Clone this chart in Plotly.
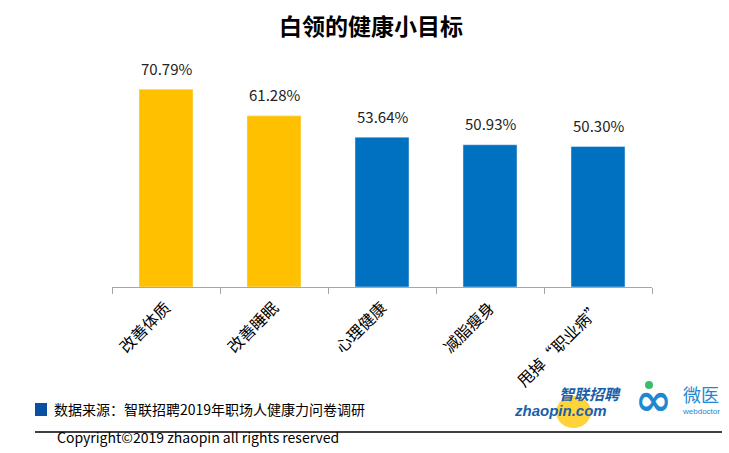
import plotly.graph_objects as go

categories = ["改善体质", "改善睡眠", "心理健康", "减脂瘦身", "甩掉“职业病”"]
values = [70.79, 61.28, 53.64, 50.93, 50.30]
bar_colors = ["#FFC000", "#FFC000", "#0070C0", "#0070C0", "#0070C0"]
labels = [f"{v:.2f}%" for v in values]

FONT = "Noto Sans CJK SC, Microsoft YaHei, sans-serif"

W, H = 729, 453
pl, pr, pt, pb = 112, 77, 60, 166
pw, ph = W - pl - pr, H - pt - pb
def px(x): return (x - pl) / pw
def py(y): return (H - pb - y) / ph

fig = go.Figure()
fig.add_trace(go.Bar(
    x=categories, y=values, marker_color=bar_colors, width=0.5,
    hoverinfo="skip", showlegend=False,
))

annotations = []
for c, v, t in zip(categories, values, labels):
    annotations.append(dict(x=c, y=v, xref="x", yref="y", text=t, showarrow=False,
                            xanchor="center", yanchor="middle",
                            yshift=21, font=dict(size=15, color="#222222", family=FONT)))

def note(text, x, y, size, color="#000000", family=FONT, xanchor="center"):
    return dict(text=text, x=px(x), y=py(y), xref="paper", yref="paper",
                xanchor=xanchor, yanchor="middle", showarrow=False,
                font=dict(size=size, color=color, family=family))

annotations += [
    note("<b>白领的健康小目标</b>", 371, 25, 23),
    note("数据来源：智联招聘2019年职场人健康力问卷调研", 52, 409, 14, xanchor="left"),
    note("Copyright©2019 zhaopin all rights reserved", 55, 437, 14, xanchor="left"),
    note("<b><i>智联招聘</i></b>", 590, 393, 15, "#1B5FAA"),
    note("<b><i>zhaopin.com</i></b>", 560, 410, 15, "#1B5FAA", "Liberation Sans, Arial, sans-serif"),
    note("<b>∞</b>", 653, 399, 44, "#1E88D0", "DejaVu Sans"),
    note("微医", 701, 394, 18, "#1E88D0"),
    note("webdoctor", 701, 411, 8, "#1E88D0", "Liberation Sans, Arial, sans-serif"),
]

shapes = [
    dict(type="rect", xref="paper", yref="paper", x0=px(35), x1=px(47), y0=py(403), y1=py(416),
         fillcolor="#0B4EA2", line=dict(width=0)),
    dict(type="line", xref="paper", yref="paper", x0=px(35), x1=px(722), y0=py(432), y1=py(432),
         line=dict(color="#000000", width=1.5)),
    dict(type="circle", xref="paper", yref="paper", x0=px(556), x1=px(591), y0=py(428), y1=py(396),
         fillcolor="#FFD43B", line=dict(width=0), layer="below"),
    dict(type="circle", xref="paper", yref="paper", x0=px(645), x1=px(653), y0=py(389), y1=py(381),
         fillcolor="#3DBB6B", line=dict(width=0)),
]

fig.update_layout(
    width=W, height=H,
    margin=dict(l=pl, r=pr, t=pt, b=pb, autoexpand=False),
    paper_bgcolor="white", plot_bgcolor="white",
    bargap=0.5,
    xaxis=dict(
        automargin=False,
        showline=True, linecolor="#A6A6A6", linewidth=1,
        ticks="outside", tickson="boundaries", ticklen=6, tickcolor="#A6A6A6",
        tickangle=-45, tickfont=dict(size=16, color="#000000", family=FONT),
        ticklabelstandoff=4,
        showgrid=False, zeroline=False, fixedrange=True,
    ),
    yaxis=dict(range=[0, 81.27], visible=False, showgrid=False, zeroline=False,
               automargin=False),
    font=dict(family=FONT),
    annotations=annotations, shapes=shapes,
)

fig.write_html("out.html", config={"displayModeBar": False},
               post_script="document.body.style.margin='0';document.body.style.padding='0';")
